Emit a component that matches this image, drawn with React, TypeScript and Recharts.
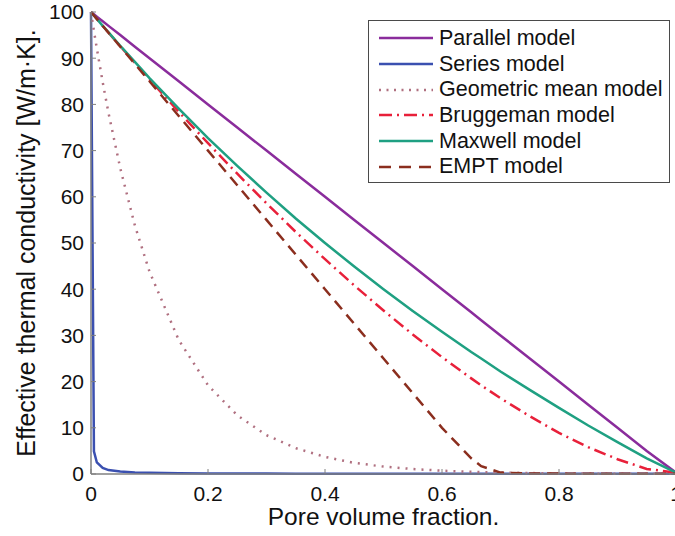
import React from 'react';
import { LineChart, Line, XAxis, YAxis, Legend } from 'recharts';

// Pore volume fraction sample points
const poreFraction = [0, 0.005, 0.01, 0.02, 0.03, 0.05, 0.075, 0.1, 0.15, 0.2, 0.25, 0.3, 0.35, 0.4, 0.45, 0.5, 0.55, 0.6, 0.65, 0.667, 0.7, 0.75, 0.8, 0.85, 0.9, 0.95, 1];

// Effective thermal conductivity [W/m·K] per model
const parallel = [100, 99.5, 99, 98, 97, 95, 92.5, 90, 85, 80, 75, 70, 65, 60, 55, 50, 45, 40, 35, 33.3, 30, 25, 20, 15, 10, 5, 0.3];
const series = [100, 4.9, 2.5, 1.3, 0.85, 0.52, 0.35, 0.26, 0.17, 0.13, 0.1, 0.09, 0.07, 0.06, 0.06, 0.05, 0.05, 0.04, 0.04, 0.04, 0.04, 0.03, 0.03, 0.03, 0.03, 0.03, 0.03];
const geometric = [100, 95.9, 92.1, 84.8, 78.1, 66.2, 53.8, 43.8, 29.0, 19.2, 12.7, 8.4, 5.6, 3.7, 2.4, 1.6, 1.07, 0.71, 0.47, 0.41, 0.31, 0.2, 0.14, 0.09, 0.06, 0.04, 0.03];
const bruggeman = [100, 99.25, 98.5, 97.0, 95.5, 92.6, 89.0, 85.4, 78.4, 71.6, 65.0, 58.6, 52.4, 46.5, 40.8, 35.4, 30.2, 25.3, 20.7, 19.2, 16.4, 12.5, 8.9, 5.8, 3.2, 1.1, 0.3];
const maxwell = [100, 99.25, 98.5, 97.0, 95.6, 92.7, 89.2, 85.7, 79.1, 72.7, 66.7, 60.9, 55.3, 50.0, 44.9, 40.0, 35.3, 30.8, 26.4, 25.0, 22.2, 18.2, 14.3, 10.5, 6.9, 3.4, 0.3];
const empt = [100, 99.25, 98.5, 97.0, 95.5, 92.5, 88.75, 85.0, 77.5, 70.0, 62.5, 55.0, 47.5, 40.0, 32.5, 25.0, 17.5, 10.0, 3.4, 1.7, 0.3, 0.12, 0.08, 0.06, 0.05, 0.04, 0.03];

const seriesKeys = ['parallel', 'series', 'geometric', 'bruggeman', 'maxwell', 'empt'];
const seriesNames = ['Parallel model', 'Series model', 'Geometric mean model', 'Bruggeman model', 'Maxwell model', 'EMPT model'];

const xTicks = [0, 0.2, 0.4, 0.6, 0.8, 1];
const yTicks = [0, 10, 20, 30, 40, 50, 60, 70, 80, 90, 100];

const xLabel = 'Pore volume fraction.';
const yLabel = 'Effective thermal conductivity [W/m·K].';

const styles: Record<string, { color: string; dash?: string; legendDash?: string }> = {
  parallel: { color: '#8a2c9c' },
  series: { color: '#3b50b0' },
  geometric: { color: '#b07080', dash: '2 6', legendDash: '2 5.5' },
  bruggeman: { color: '#e8203a', dash: '12 5 2 5', legendDash: '13 5 2 5' },
  maxwell: { color: '#1fa082' },
  empt: { color: '#8b2e1e', dash: '11 7', legendDash: '12 8' },
};

const FONT = '"Liberation Sans", Arial, Helvetica, sans-serif';
const AXIS = '#808080';

const valuesByKey: Record<string, number[]> = { parallel, series, geometric, bruggeman, maxwell, empt };
const data = poreFraction.map((p, i) => {
  const row: Record<string, number> = { p };
  seriesKeys.forEach((k) => { row[k] = valuesByKey[k][i]; });
  return row;
});

const fmtX = (v: number) => (v === 0 ? '0' : v === 1 ? '1' : String(v));

const renderLegend = () => (
  <div
    style={{
      position: 'absolute', left: 368, top: 20, width: 302, height: 163,
      border: '1px solid #4a4a4a', background: '#fff', boxSizing: 'border-box',
      fontFamily: FONT, fontSize: 21.5, color: '#111',
    }}
  >
    {seriesKeys.map((k, i) => (
      <div
        key={k}
        style={{
          position: 'absolute', left: 9, top: 4.5 + i * 25.7, height: 25.7,
          display: 'flex', alignItems: 'center', whiteSpace: 'nowrap',
        }}
      >
        <svg width={56} height={10} style={{ display: 'block' }}>
          <line x1={1} y1={5} x2={55} y2={5} stroke={styles[k].color} strokeWidth={2.5}
            strokeDasharray={styles[k].legendDash} />
        </svg>
        <span style={{ marginLeft: 5, lineHeight: '25px' }}>{seriesNames[i]}</span>
      </div>
    ))}
  </div>
);

export default function App() {
  return (
    <div style={{ position: 'absolute', left: 0, top: 0, width: 675, height: 536, overflow: 'hidden', background: '#fff', fontFamily: FONT }}>
      <LineChart width={690} height={536} data={data} margin={{ top: 12, right: 14, bottom: 0, left: 0 }}>
        <XAxis
          dataKey="p" type="number" domain={[0, 1]} ticks={xTicks} interval={0}
          tickFormatter={fmtX} height={62} tickSize={-5} tickMargin={17}
          axisLine={{ stroke: AXIS, strokeWidth: 1.5 }} tickLine={{ stroke: AXIS }}
          tick={{ fill: '#111', fontSize: 21 }}
          label={{ value: xLabel, position: 'insideBottom', offset: 11, fontSize: 24.5, fill: '#111' }}
        />
        <XAxis
          xAxisId="top" orientation="top" dataKey="p" type="number" domain={[0, 1]} ticks={xTicks}
          interval={0} height={0} tickSize={-5} tick={false}
          axisLine={{ stroke: AXIS, strokeWidth: 2 }} tickLine={{ stroke: AXIS }}
        />
        <YAxis
          type="number" domain={[0, 100]} ticks={yTicks} interval={0} width={91}
          tickSize={-5} tickMargin={12}
          axisLine={{ stroke: AXIS, strokeWidth: 1.5 }} tickLine={{ stroke: AXIS }}
          tick={{ fill: '#111', fontSize: 21 }}
          label={{ value: yLabel, angle: -90, position: 'insideLeft', offset: 26, fontSize: 25, fill: '#111', style: { textAnchor: 'middle' } }}
        />
        <YAxis
          yAxisId="right" orientation="right" type="number" domain={[0, 100]} ticks={yTicks}
          interval={0} width={0} tickSize={-5} tick={false}
          axisLine={{ stroke: AXIS, strokeWidth: 1.5 }} tickLine={{ stroke: AXIS }}
        />
        <Legend layout="vertical" align="center" verticalAlign="middle" content={renderLegend}
          wrapperStyle={{ position: 'absolute', left: 0, top: 0, width: 0, height: 0 }} />
        {seriesKeys.map((k, i) => (
          <Line
            key={k} dataKey={k} name={seriesNames[i]} type="linear" dot={false} activeDot={false}
            stroke={styles[k].color} strokeWidth={2.5} strokeDasharray={styles[k].dash}
            isAnimationActive={false}
          />
        ))}
      </LineChart>
    </div>
  );
}
